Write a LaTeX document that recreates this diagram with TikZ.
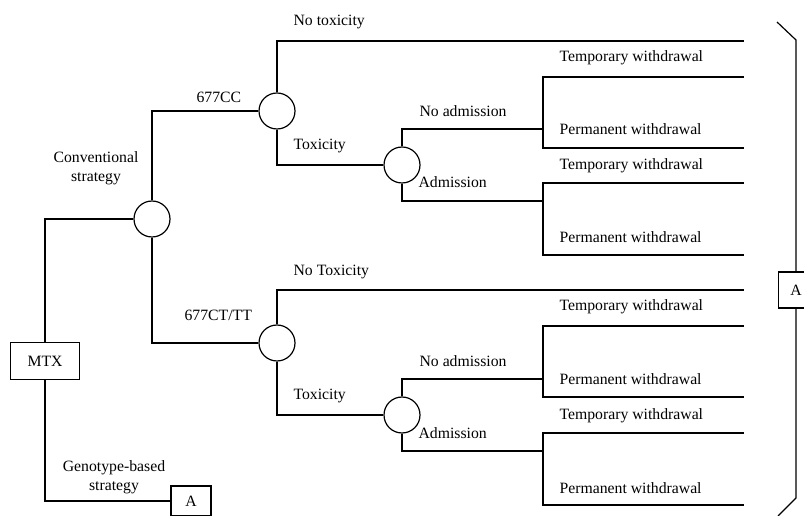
\documentclass[tikz,border=0pt]{standalone}
\usepackage{fontspec}
\setmainfont{Liberation Serif}

\tikzset{every picture/.style={line width=0.9pt}}
\tikzset{
  chance/.style={circle, draw, fill=white, minimum size=27pt, inner sep=0pt},
  termbox/.style={draw, fill=white, inner sep=0pt, font=\fontsize{11.8}{14}\selectfont},
  lbl/.style={inner sep=0.75pt, font=\fontsize{11.8}{14}\selectfont}
}

\begin{document}
\begin{tikzpicture}[x=0.75pt,y=0.75pt,yscale=-1,xscale=1]
\useasboundingbox (0,0) rectangle (804,516);

% Decision and chance nodes
\node [termbox, minimum width=52pt, minimum height=27.5pt] (mtx) at (45,361) {MTX};
\node [chance] (conv) at (152,219) {};
\node [chance] (cc) at (277,111) {};
\node [chance] (ct) at (277,343) {};
\node [chance] (tox1) at (402,165) {};
\node [chance] (tox2) at (402,415) {};
\node [termbox, minimum width=30pt, minimum height=22.5pt] (abot) at (191,501) {A};
\node [termbox, minimum width=26pt, minimum height=27pt] (aright) at (796,290) {A};

% Branch points
\coordinate (endA) at (744,41);
\coordinate (na1) at (543,129);
\coordinate (ad1) at (543,201);
\coordinate (na2) at (543,379);
\coordinate (ad2) at (543,451);
\coordinate (tw1) at (543,77);
\coordinate (pw1) at (543,148);
\coordinate (tw2) at (543,183);
\coordinate (pw2) at (543,255);
\coordinate (nt2) at (744,290);
\coordinate (tw3) at (543,326);
\coordinate (pw3) at (543,397);
\coordinate (tw4) at (543,433);
\coordinate (pw4) at (543,505);

%Straight Lines
\draw (mtx.north) |- (conv.west);
\draw (mtx.south) |- (abot.west);
\draw (conv.north) |- (cc.west);
\draw (conv.south) |- (ct.west);
%Straight Lines
\draw (cc.north) |- (endA);
\draw (cc.south) |- (tox1.west);
\draw (tox1.north) |- (na1);
\draw (tox1.south) |- (ad1);
\draw (ct.north) |- (nt2);
\draw (ct.south) |- (tox2.west);
\draw (tox2.north) |- (na2);
\draw (tox2.south) |- (ad2);
%Straight Lines
\draw (tw1 -| endA) -- (tw1) -- (pw1) -- (pw1 -| endA);
\draw (tw2 -| endA) -- (tw2) -- (pw2) -- (pw2 -| endA);
\draw (tw3 -| endA) -- (tw3) -- (pw3) -- (pw3 -| endA);
\draw (tw4 -| endA) -- (tw4) -- (pw4) -- (pw4 -| endA);
%Brace
\draw (777,22) -- (796,40) -- (aright.north);
\draw (aright.south) -- (796,498) -- (778,516);

% Text Node
\draw (96,168) node [lbl, align=center] {Conventional\\strategy};
% Text Node
\draw (114,477) node [lbl, align=center] {Genotype-based\\strategy};
% Text Node
\draw (195,97) node [lbl, anchor=west] {677CC};
% Text Node
\draw (183,315) node [lbl, anchor=west] {677CT/TT};
% Text Node
\draw (292,22) node [lbl, anchor=west] {No toxicity};
% Text Node
\draw (292,272) node [lbl, anchor=west] {No Toxicity};
% Text Node
\draw (292,146) node [lbl, anchor=west] {Toxicity};
% Text Node
\draw (292,396) node [lbl, anchor=west] {Toxicity};
% Text Node
\draw (418,111) node [lbl, anchor=west] {No admission};
% Text Node
\draw (418,361) node [lbl, anchor=west] {No admission};
% Text Node
\draw (417,182) node [lbl, anchor=west] {Admission};
% Text Node
\draw (417,433) node [lbl, anchor=west] {Admission};
% Text Node
\draw (558,58) node [lbl, anchor=west] {Temporary withdrawal};
% Text Node
\draw (558,129) node [lbl, anchor=west] {Permanent withdrawal};
% Text Node
\draw (558,166) node [lbl, anchor=west] {Temporary withdrawal};
% Text Node
\draw (558,237) node [lbl, anchor=west] {Permanent withdrawal};
% Text Node
\draw (558,307) node [lbl, anchor=west] {Temporary withdrawal};
% Text Node
\draw (558,379) node [lbl, anchor=west] {Permanent withdrawal};
% Text Node
\draw (558,416) node [lbl, anchor=west] {Temporary withdrawal};
% Text Node
\draw (558,488) node [lbl, anchor=west] {Permanent withdrawal};

\end{tikzpicture}
\end{document}
